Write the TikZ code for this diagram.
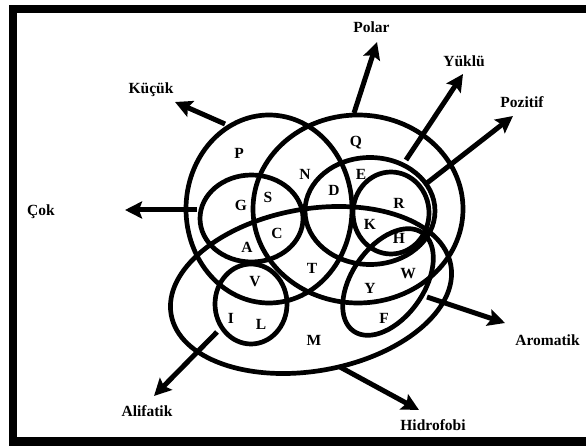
\documentclass[tikz,border=0pt]{standalone}
\usepackage{fontspec}
\setmainfont{Liberation Serif}
\usetikzlibrary{arrows.meta}
\begin{document}
\begin{tikzpicture}[x=1pt,y=-1pt,
  ring/.style={line width=4.7pt},
  arr/.style={line width=5pt,-{Stealth[length=17pt,width=17pt,inset=3pt]}},
  lbl/.style={font=\fontsize{15.5}{18}\selectfont\bfseries, anchor=base, inner sep=0pt},
]
\useasboundingbox (0,0) rectangle (586,446);
\draw[line width=8.5pt] (13,9) rectangle (610,441.5);

% sets
\draw[ring] (269,209) ellipse [x radius=83pt, y radius=94pt];   % Kucuk
\draw[ring] (358,209) ellipse [x radius=105pt, y radius=94pt];  % Polar
\draw[ring] (370,211) ellipse [x radius=65pt, y radius=53.5pt]; % Yuklu
\draw[ring] (391,213) ellipse [x radius=38pt, y radius=41pt];   % Pozitif
\draw[ring] (251.5,218.5) ellipse [x radius=51.5pt, y radius=43.5pt]; % Cok
\draw[ring] (251,304) ellipse [x radius=36pt, y radius=40pt];   % Alifatik
\draw[ring, rotate around={10:(311,290)}] (311,290) ellipse [x radius=142pt, y radius=81pt]; % Hidrofobi
\draw[ring, rotate around={55:(388,282)}] (388,282) ellipse [x radius=60pt, y radius=36pt];  % Aromatik

% arrow ends
\coordinate (kS) at (225,124); \coordinate (kT) at (175,102);
\coordinate (pS) at (354,113); \coordinate (pT) at (377,42);
\coordinate (yS) at (406,160); \coordinate (yT) at (463,74);
\coordinate (zS) at (427,183); \coordinate (zT) at (513,116);
\coordinate (cS) at (197,210); \coordinate (cT) at (125,210);
\coordinate (aS) at (427,297); \coordinate (aT) at (505,323);
\coordinate (fS) at (217,332); \coordinate (fT) at (154,396);
\coordinate (hS) at (340,367); \coordinate (hT) at (419,410);
\draw[arr] (kS) -- (kT);
\draw[arr] (pS) -- (pT);
\draw[arr] (yS) -- (yT);
\draw[arr] (zS) -- (zT);
\draw[arr] (cS) -- (cT);
\draw[arr] (aS) -- (aT);
\draw[arr] (fS) -- (fT);
\draw[arr] (hS) -- (hT);

% category labels
\node[lbl] (tPolar) at (371.5,33) {Polar};
\node[lbl] (tYuklu) at (464,67) {Yüklü};
\node[lbl] (tPoz) at (522,108) {Pozitif};
\node[lbl] (tKucuk) at (151,94) {Küçük};
\node[lbl] (tCok) at (41,216) {Çok};
\node[lbl] (tArom) at (547.5,345) {Aromatik};
\node[lbl] (tAlif) at (147,416) {Alifatik};
\node[lbl] (tHidro) at (433,430) {Hidrofobi};

% amino acid letters
\node[lbl] (lP) at (239,159) {P};
\node[lbl] (lQ) at (356,147) {Q};
\node[lbl] (lN) at (305,180) {N};
\node[lbl] (lE) at (361,180) {E};
\node[lbl] (lD) at (334,196) {D};
\node[lbl] (lS) at (268,203) {S};
\node[lbl] (lG) at (241,211) {G};
\node[lbl] (lR) at (399,209) {R};
\node[lbl] (lK) at (370,230) {K};
\node[lbl] (lC) at (277,239) {C};
\node[lbl] (lH) at (399,244) {H};
\node[lbl] (lA) at (247,253) {A};
\node[lbl] (lT) at (312,274) {T};
\node[lbl] (lW) at (408,279) {W};
\node[lbl] (lV) at (255,287) {V};
\node[lbl] (lY) at (370,293) {Y};
\node[lbl] (lI) at (231,323) {I};
\node[lbl] (lL) at (261,329) {L};
\node[lbl] (lF) at (384,323) {F};
\node[lbl] (lM) at (314,345) {M};
\end{tikzpicture}
\end{document}
